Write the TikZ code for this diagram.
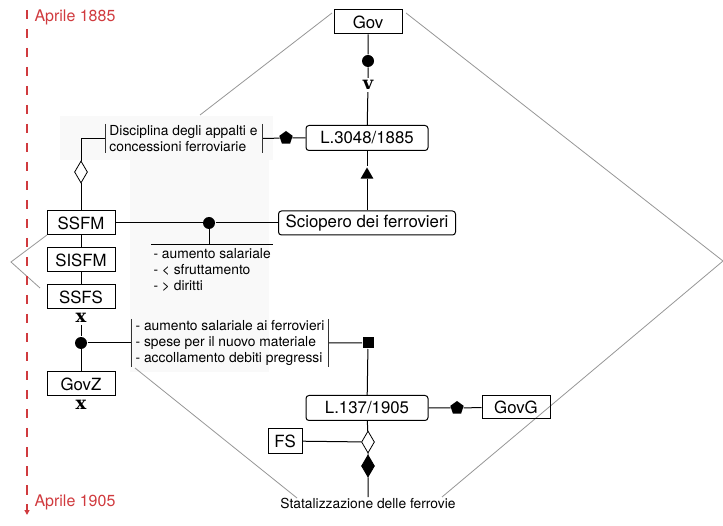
\documentclass[tikz,border=0pt]{standalone}
\usepackage{fontspec}
\setmainfont{TeX Gyre Heros}
\newfontfamily\markfont{DejaVu Serif}
\usepackage{xcolor}
\usepackage{tikz}
\usetikzlibrary{shapes.geometric}
\usetikzlibrary{arrows.meta}
\definecolor{datered}{RGB}{208,58,62}
\definecolor{framegray}{RGB}{150,150,150}
\definecolor{panegray}{RGB}{249,249,249}
\tikzset{
    actorbox/.style = {rectangle, draw=black, line width=1pt, inner sep=0pt, minimum width=68pt, minimum height=24pt, font=\fontsize{16.8}{18}\selectfont},
    lawbox/.style = {actorbox, rounded corners=3pt, minimum width=122pt, minimum height=25pt},
    notes/.style = {align=left, inner xsep=4pt, inner ysep=1pt, font=\fontsize{13.8}{16}\selectfont},
    datelbl/.style = {anchor=west, inner sep=0pt, text=datered, font=\fontsize{16}{18}\selectfont},
    markn/.style = {inner sep=2pt, font=\fontsize{18}{18}\selectfont\markfont\bfseries},
}
\begin{document}
\begin{tikzpicture}[
	x=1pt, y=-1pt,
	line width=1pt,
	font=\fontsize{13.8}{16}\selectfont
]
\tikzset{
    dotn/.style = {circle, fill=black, inner sep=0pt, minimum size=12pt},
    sqn/.style = {rectangle, fill=black, inner sep=0pt, minimum size=11pt},
    pentan/.style = {regular polygon, regular polygon sides=5, fill=black, inner sep=0pt, minimum size=14pt},
    trin/.style = {regular polygon, regular polygon sides=3, fill=black, inner sep=0pt, minimum size=15pt},
    diamw/.style = {diamond, draw=black, line width=0.8pt, fill=white, inner sep=0pt, minimum width=13pt, minimum height=22pt},
    diamb/.style = {diamw, fill=black},
    edgen/.style = {-, black},
    edgebr/.style = {-, line width=0.9pt, black!80},
    edgeg/.style = {-, line width=0.8pt, framegray},
    timeline/.style = {datered, line width=1.3pt, dash pattern=on 9.5pt off 9.5pt, -{Triangle[width=5pt,length=5pt]}}
}
\useasboundingbox (0,0) rectangle (723,526);
% pale panes behind the notes
\fill[panegray] (60,116) rectangle (273,160);
\fill[panegray] (130,160) rectangle (269,372);
%
% outer frame
\coordinate (fa) at (332,13);
\coordinate (fb) at (200,115);
\coordinate (fc) at (406,13);
\coordinate (fd) at (723,261);
\coordinate (fe) at (442,497);
\coordinate (ff) at (47,235);
\coordinate (fg) at (11,262);
\coordinate (fh) at (40,288);
\coordinate (fi) at (135,368);
\coordinate (fj) at (297,498);
\draw[edgeg] (fa) -- (fb);
\draw[edgeg] (fc) -- (fd) -- (fe);
\draw[edgeg] (ff) -- (fg) -- (fh);
\draw[edgeg] (fi) -- (fj);
%
% time axis
\coordinate (tstart) at (27,10);
\coordinate (tend) at (27,515);
\draw[timeline] (tstart) -- (tend);
\node[datelbl] at (34,17) (dstart) {Aprile 1885};
\node[datelbl] at (34,502) (dend) {Aprile 1905};
%
\node[actorbox] at (368,22) (gov) {Gov};
\node[dotn] at (368,61) (govdot) {};
\node[markn] at (368,85) (govv) {v};
\node[lawbox] at (367,138) (l3048) {L.3048/1885};
\node[notes] at (183.5,138.5) (discip) {Disciplina degli appalti e\\concessioni ferroviarie};
\node[pentan] at (286,138) (discpen) {};
\node[diamw] at (81,172) (discdiam) {};
\node[trin] at (367,175) (sciotri) {};
\node[lawbox, minimum width=177pt, minimum height=24pt] at (367,223) (sciop) {Sciopero dei ferrovieri};
\node[actorbox] at (81,223) (ssfm) {SSFM};
\node[dotn] at (209,223) (sciodot) {};
\node[notes, anchor=north west, inner xsep=2pt, inner ysep=3pt] at (151,245) (rivend) {- aumento salariale\\- < sfruttamento\\- > diritti};
\node[actorbox] at (81,260) (sisfm) {SISFM};
\node[actorbox] at (81,297) (ssfs) {SSFS};
\node[markn] at (81,318) (ssfsx) {x};
\node[dotn] at (81,343) (govzdot) {};
\node[notes] at (230,343) (misure) {- aumento salariale ai ferrovieri\\- spese per il nuovo materiale\\- accollamento debiti pregressi};
\node[sqn] at (368,343) (missq) {};
\node[actorbox] at (81,384) (govz) {GovZ};
\node[markn] at (81,405) (govzx) {x};
\node[lawbox] at (367,408) (l137) {L.137/1905};
\node[pentan] at (457,408) (govgpen) {};
\node[actorbox, minimum height=23pt] at (516,407) (govg) {GovG};
\node[actorbox, minimum width=34pt] at (285,441) (fs) {FS};
\node[diamw] at (368,442) (fsdiam) {};
\node[diamb] at (368,466) (statdiam) {};
\node[notes, anchor=north] at (368,497) (stat) {Statalizzazione delle ferrovie};
%
\draw[edgen] (gov) -- (govdot) -- (govv) -- (l3048);
\draw[edgen] (l3048) -- (sciotri) -- (sciop);
\draw[edgen] (discip.east) -- (discpen) -- (l3048);
\draw[edgen] (discip.west) -| (discdiam.north);
\draw[edgen] (discdiam) -- (ssfm);
\draw[edgebr] (discip.north west) -- (discip.south west) (discip.north east) -- (discip.south east);
%
\draw[edgen] (ssfm) -- (sciodot) -- (sciop);
\draw[edgen] (sciodot) -- (sciodot |- rivend.north);
\draw[edgen] (rivend.north west) -- (rivend.north east);
%
\draw[edgen] (ssfm) -- (sisfm) -- (ssfs);
\draw[edgen] (ssfsx) -- (govzdot) -- (govz);
\draw[edgen] (govzdot) -- (misure.west);
\draw[edgebr] (misure.north west) -- (misure.south west) (misure.north east) -- (misure.south east);
\draw[edgen] (misure.east) -- (missq) -- (l137);
%
\draw[edgen] (l137) -- (govgpen) -- (govg);
\draw[edgen] (fs) -- (fsdiam);
\draw[edgen] (l137) -- (fsdiam) -- (statdiam) -- (stat);
\end{tikzpicture}
\end{document}
